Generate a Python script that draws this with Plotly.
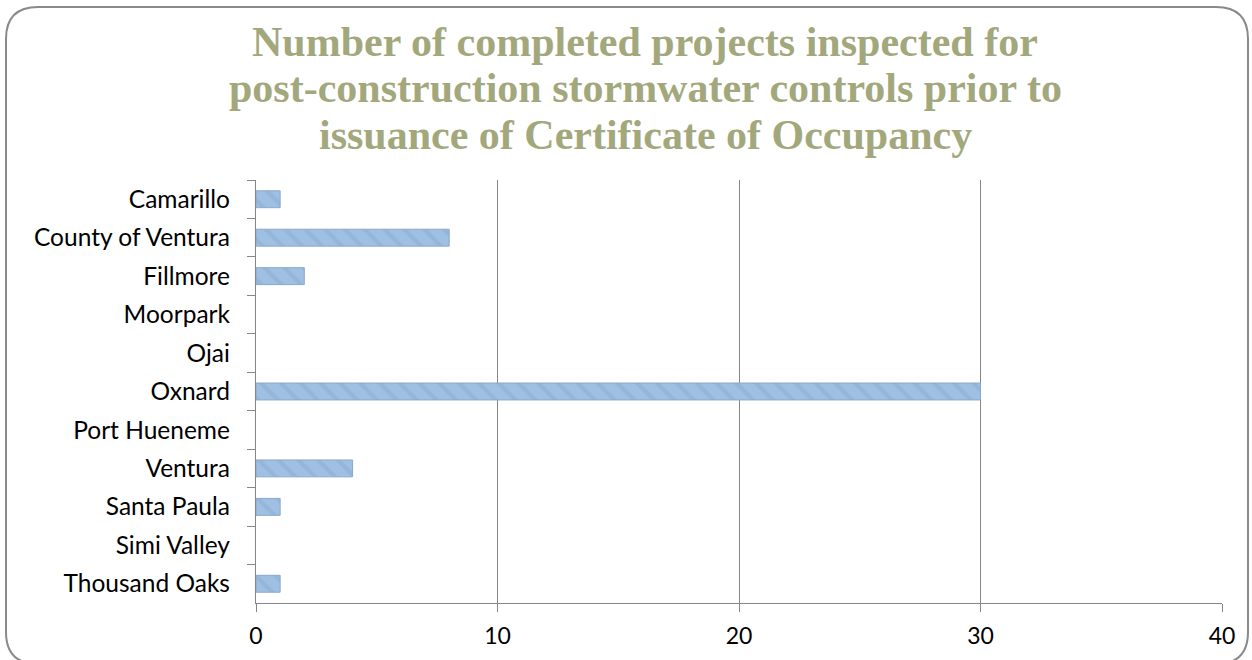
import plotly.graph_objects as go

# Completed projects inspected per jurisdiction
jurisdictions = [
    "Camarillo", "County of Ventura", "Fillmore", "Moorpark", "Ojai",
    "Oxnard", "Port Hueneme", "Ventura", "Santa Paula", "Simi Valley",
    "Thousand Oaks",
]
projects_inspected = [1, 8, 2, 0, 0, 30, 0, 4, 1, 0, 1]
x_ticks = [0, 10, 20, 30, 40]

title_lines = [
    "Number of completed projects inspected for",
    "post-construction stormwater controls prior to",
    "issuance of Certificate of Occupancy",
]

W, H = 1252, 660
ML, MR, MT, MB = 256, 30, 180, 57
PW, PH = W - ML - MR, H - MT - MB


def px_x(px):
    return (px - ML) / PW


def px_y(py):
    return (H - MB - py) / PH


fig = go.Figure()
fig.add_trace(go.Bar(
    y=jurisdictions,
    x=projects_inspected,
    orientation="h",
    width=0.44,
    marker=dict(
        color="#a0c0e3",
        line=dict(color="#88a8cc",
                  width=[1 if v > 0 else 0 for v in projects_inspected]),
        pattern=dict(shape="\\", fgcolor="#8aaad0", size=14, solidity=0.3,
                     fillmode="overlay"),
    ),
    hoverinfo="x+y",
))

# rounded frame around the whole chart
x0, x1 = px_x(6), px_x(1248)
y0, y1 = px_y(7), px_y(664)
rx = 32 / PW
ry = 32 / PH
frame = (f"M {x0 + rx} {y0} L {x1 - rx} {y0} Q {x1} {y0} {x1} {y0 - ry} "
         f"L {x1} {y1 + ry} Q {x1} {y1} {x1 - rx} {y1} "
         f"L {x0 + rx} {y1} Q {x0} {y1} {x0} {y1 + ry} "
         f"L {x0} {y0 - ry} Q {x0} {y0} {x0 + rx} {y0} Z")

# three-line title, one annotation per line for tighter leading
title_centers = [42, 88, 135]
annotations = [
    dict(text=line, xref="paper", yref="paper",
         x=px_x(645), y=px_y(cy), xanchor="center", yanchor="middle",
         showarrow=False,
         font=dict(family="Liberation Serif", size=42, color="#a3a87c",
                   weight="bold"))
    for line, cy in zip(title_lines, title_centers)
]

fig.update_layout(
    width=W, height=H,
    margin=dict(l=ML, r=MR, t=MT, b=MB),
    paper_bgcolor="white",
    plot_bgcolor="white",
    showlegend=False,
    annotations=annotations,
    xaxis=dict(
        range=[0, 40],
        tickvals=x_ticks,
        showgrid=True, gridcolor="#868686", gridwidth=1.3,
        showline=True, linecolor="#868686", linewidth=1.3,
        ticks="outside", ticklen=8, tickcolor="#868686", tickwidth=1.3,
        tickfont=dict(family="Lato", size=23, color="black"),
        ticklabelstandoff=4,
        zeroline=False,
    ),
    yaxis=dict(
        autorange="reversed",
        tickson="boundaries",
        showline=True, linecolor="#868686", linewidth=1.3,
        ticks="outside", ticklen=8, tickcolor="#868686", tickwidth=1.3,
        tickfont=dict(family="Lato", size=24.5, color="black"),
        showgrid=False,
        ticklabelstandoff=20,
    ),
    shapes=[dict(type="path", path=frame, xref="paper", yref="paper",
                 line=dict(color="#8a8a8a", width=2), layer="above")],
)

fig.write_html("out.html")
